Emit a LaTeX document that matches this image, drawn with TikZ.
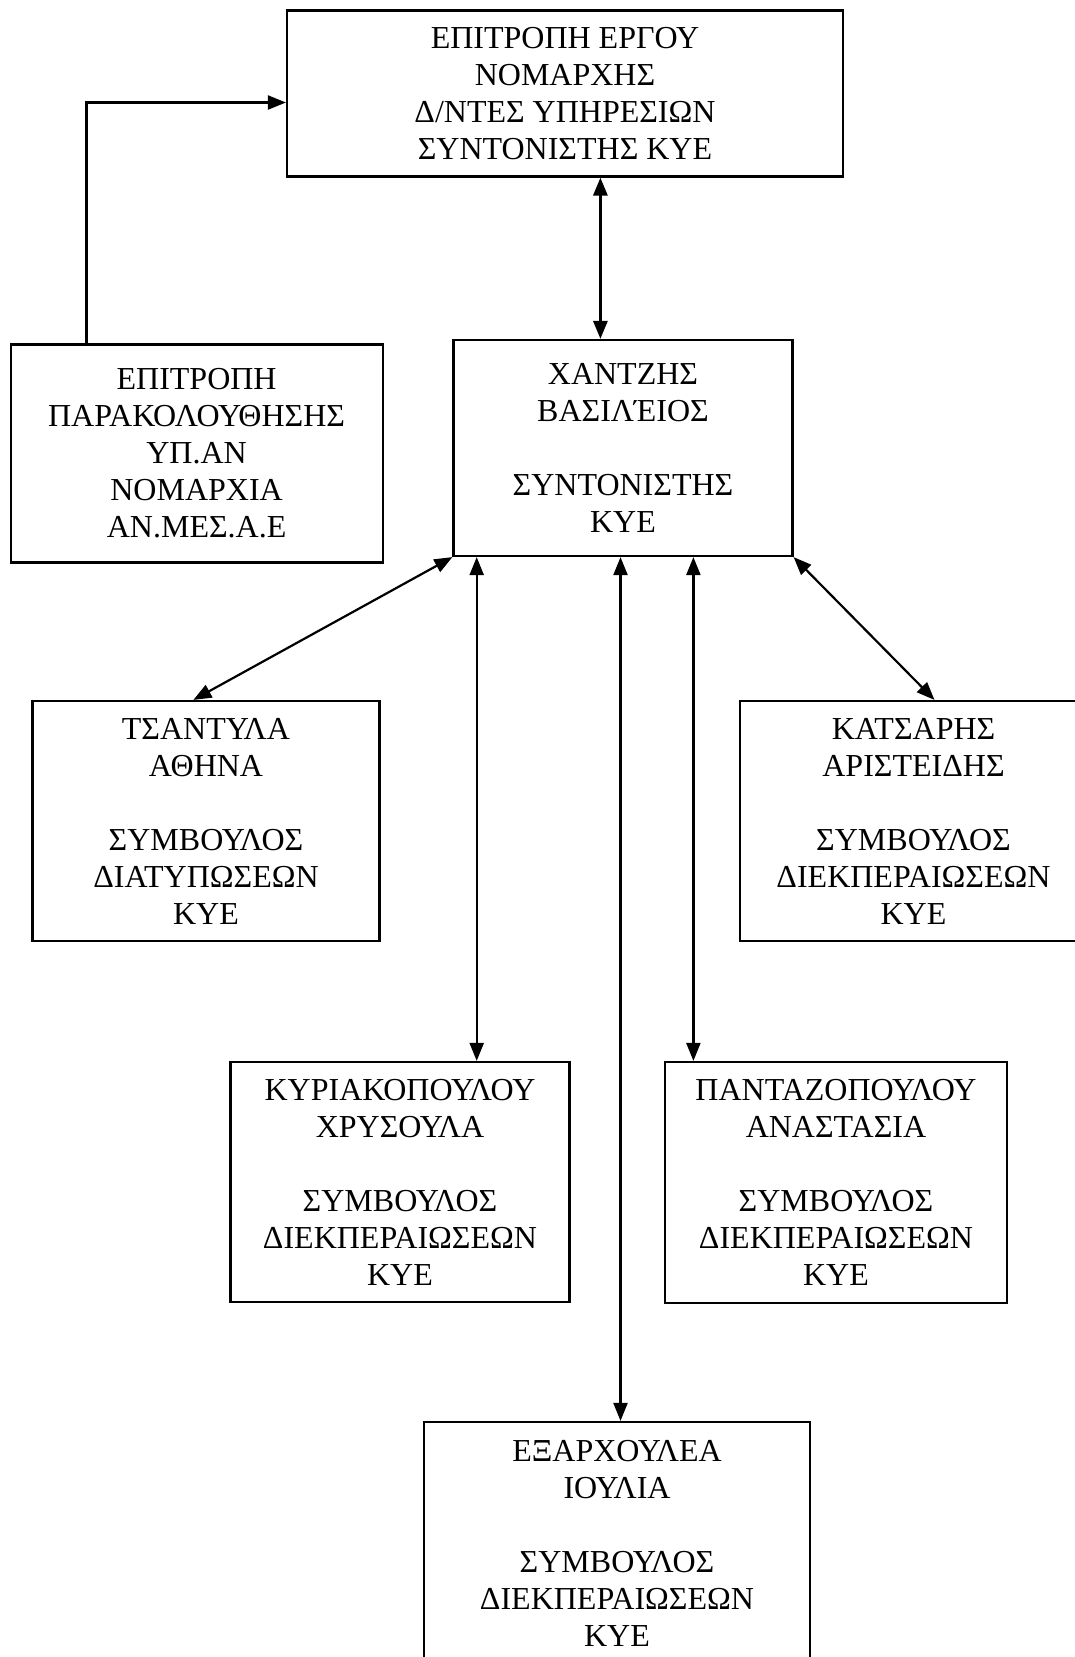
\documentclass[tikz,border=0pt]{standalone}
\usepackage{fontspec}
\setmainfont{Liberation Serif}
\usetikzlibrary{arrows.meta}
\tikzset{
  box/.style={draw, line width=2.2pt, rectangle, inner sep=0pt, align=center,
    font=\fontsize{32}{37}\selectfont},
  arr/.style={line width=2.2pt, -{Triangle[length=18pt,width=14pt]}},
  darr/.style={line width=2.2pt, {Triangle[length=18pt,width=14pt]}-{Triangle[length=18pt,width=14pt]}},
}
\begin{document}
\begin{tikzpicture}[x=1pt,y=-1pt]
\useasboundingbox (0,0) rectangle (1075,1657);
\fill[white] (0,0) rectangle (1075,1657);
\node[box, minimum width=556pt, minimum height=166pt] (top) at (565,93.5)
  {ΕΠΙΤΡΟΠΗ ΕΡΓΟΥ\\ΝΟΜΑΡΧΗΣ\\Δ/ΝΤΕΣ ΥΠΗΡΕΣΙΩΝ\\ΣΥΝΤΟΝΙΣΤΗΣ ΚΥΕ};
\node[box, minimum width=372pt, minimum height=218pt] (mon) at (196.6,453.5)
  {ΕΠΙΤΡΟΠΗ\\ΠΑΡΑΚΟΛΟΥΘΗΣΗΣ\\ΥΠ.ΑΝ\\ΝΟΜΑΡΧΙΑ\\ΑΝ.ΜΕΣ.Α.Ε};
\node[box, minimum width=339pt, minimum height=216pt] (coord) at (623,448)
  {ΧΑΝΤΖΗΣ\\ΒΑΣΙΛΈΙΟΣ\\[37pt]ΣΥΝΤΟΝΙΣΤΗΣ\\ΚΥΕ};
\node[box, minimum width=347pt, minimum height=240pt] (tsa) at (206,821)
  {ΤΣΑΝΤΥΛΑ\\ΑΘΗΝΑ\\[37pt]ΣΥΜΒΟΥΛΟΣ\\ΔΙΑΤΥΠΩΣΕΩΝ\\ΚΥΕ};
\node[box, minimum width=347pt, minimum height=240pt] (kat) at (913.5,821)
  {ΚΑΤΣΑΡΗΣ\\ΑΡΙΣΤΕΙΔΗΣ\\[37pt]ΣΥΜΒΟΥΛΟΣ\\ΔΙΕΚΠΕΡΑΙΩΣΕΩΝ\\ΚΥΕ};
\node[box, minimum width=339pt, minimum height=240pt] (kyr) at (400,1182)
  {ΚΥΡΙΑΚΟΠΟΥΛΟΥ\\ΧΡΥΣΟΥΛΑ\\[37pt]ΣΥΜΒΟΥΛΟΣ\\ΔΙΕΚΠΕΡΑΙΩΣΕΩΝ\\ΚΥΕ};
\node[box, minimum width=342pt, minimum height=241pt] (pan) at (836,1182.5)
  {ΠΑΝΤΑΖΟΠΟΥΛΟΥ\\ΑΝΑΣΤΑΣΙΑ\\[37pt]ΣΥΜΒΟΥΛΟΣ\\ΔΙΕΚΠΕΡΑΙΩΣΕΩΝ\\ΚΥΕ};
\node[box, minimum width=386pt, minimum height=242pt] (exa) at (617,1543)
  {ΕΞΑΡΧΟΥΛΕΑ\\ΙΟΥΛΙΑ\\[37pt]ΣΥΜΒΟΥΛΟΣ\\ΔΙΕΚΠΕΡΑΙΩΣΕΩΝ\\ΚΥΕ};
% connectors
\draw[arr] ([xshift=77pt]mon.north west) |- ([yshift=-9pt]top.west);
\draw[darr, line width=3pt] ([xshift=35.4pt]top.south) -- ([xshift=35.4pt]top.south |- coord.north);
\draw[darr] (coord.south west) -- ([xshift=-12.6pt]tsa.north);
\draw[darr] ([xshift=76.7pt]kyr.north |- coord.south) -- ([xshift=76.7pt]kyr.north);
\draw[darr] ([xshift=3.5pt]exa.north |- coord.south) -- ([xshift=3.5pt]exa.north);
\draw[darr] ([xshift=-142.6pt]pan.north |- coord.south) -- ([xshift=-142.6pt]pan.north);
\draw[darr] (coord.south east) -- ([xshift=21pt]kat.north);
\end{tikzpicture}
\end{document}
